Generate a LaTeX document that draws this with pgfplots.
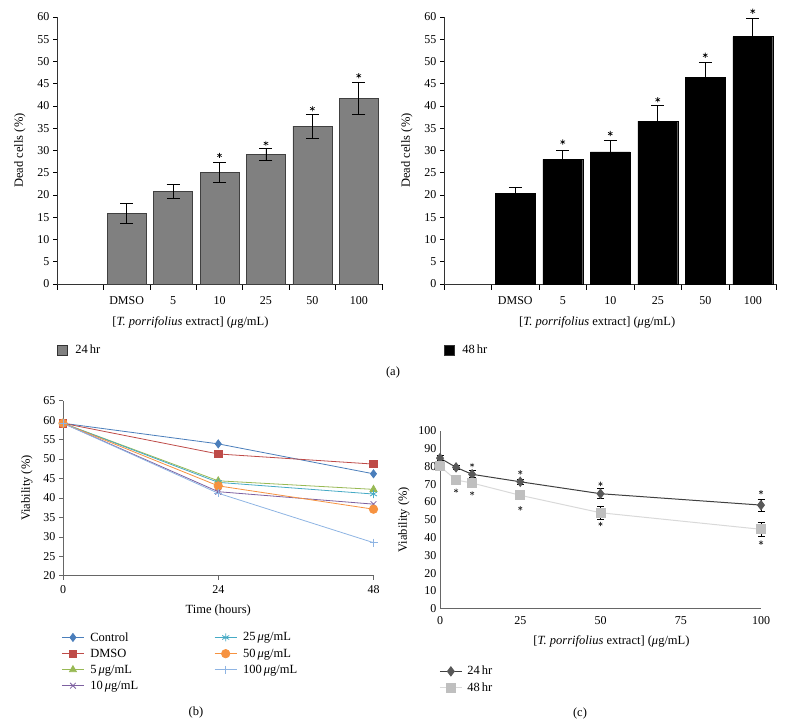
\documentclass[border=0pt]{standalone}
\usepackage{fontspec}
\setmainfont{Liberation Serif}
\usepackage{pgfplots}
\pgfplotsset{compat=1.18}

\definecolor{barg}{HTML}{808080}
\definecolor{cctl}{HTML}{4A7EBB}
\definecolor{cdmso}{HTML}{BE4B48}
\definecolor{cfive}{HTML}{98B954}
\definecolor{cten}{HTML}{7D60A0}
\definecolor{ctwf}{HTML}{46AAC5}
\definecolor{cfif}{HTML}{F69240}
\definecolor{chun}{HTML}{8EB4E3}
\definecolor{dk}{HTML}{595959}
\definecolor{lt}{HTML}{BFBFBF}

\pgfplotsset{
  every axis/.append style={scale only axis, anchor=south west, clip=false,
    /pgf/number format/assume math mode=true,
    font=\fontsize{12}{14}\selectfont,
    label style={font=\fontsize{12.5}{15}\selectfont},
    legend cell align=left,
    axis lines=left, axis line style={-}},
  deadcells/.style={
    ymin=0, ymax=60, ytick={0,5,...,60},
    xmin=0, xmax=7,
    xtick={1.5,2.5,...,6.5}, xticklabels={DMSO,5,10,25,50,100},
    minor xtick={0,1,...,7},
    major x tick style={draw=none},
    minor tick length=6pt, major tick length=4pt,
    tick align=outside,
    xticklabel style={yshift=-5pt},
    tick style={black, line width=0.6pt},
    axis line style={black!80, line width=0.8pt},
    ylabel={Dead cells (\%)}, ylabel shift=5pt,
    xlabel={[\textit{T. porrifolius} extract] (\textit{μ}g/mL)},
    legend image code/.code={\draw[#1, draw=black!80] (0pt,-5pt) rectangle (10pt,5pt);},
    legend style={draw=none, fill=none, anchor=west, font=\fontsize{12.5}{15}\selectfont,
      /tikz/every odd column/.append style={column sep=6pt}},
  },
  errs/.style={error bars/.cd, y dir=both, y explicit,
    error bar style={line width=0.8pt, black},
    error mark options={rotate=90, mark size=6.5pt, line width=0.8pt, black}},
  star/.style={only marks, mark=asterisk, mark size=2.6pt, black, mark options={line width=0.6pt}, forget plot},
}

\begin{document}
\begin{tikzpicture}
\path (0pt,0pt) rectangle (786pt,727pt);

% (a) 24 hr
\begin{axis}[deadcells, at={(57pt,443pt)}, width=325pt, height=267pt,
  xlabel style={xshift=-29pt, yshift=-5pt},
  legend style={at={(axis description cs:-0.01,-0.247)}}]
\addplot[ybar, bar width=0.84, fill=barg, draw=black!75, errs] coordinates {
  (1.5,15.9) +- (0,2.2)
  (2.5,20.8) +- (0,1.6)
  (3.5,25.1) +- (0,2.3)
  (4.5,29.1) +- (0,1.3)
  (5.5,35.5) +- (0,2.7)
  (6.5,41.7) +- (0,3.7)
};
\addlegendentry{24\,hr}
\addplot[star] coordinates {(3.5,28.9) (4.5,31.6) (5.5,39.4) (6.5,46.8)};
\end{axis}

% (a) 48 hr
\begin{axis}[deadcells, at={(444pt,443pt)}, width=332.5pt, height=267pt,
  xlabel style={xshift=-13pt, yshift=-5pt},
  legend style={at={(axis description cs:-0.01,-0.247)}}]
\addplot[ybar, bar width=0.84, fill=black, draw=black, errs] coordinates {
  (1.5,20.3) +- (0,1.3)
  (2.5,28.0) +- (0,2.0)
  (3.5,29.7) +- (0,2.5)
  (4.5,36.6) +- (0,3.5)
  (5.5,46.4) +- (0,3.4)
  (6.5,55.6) +- (0,4.0)
};
\addlegendentry{48\,hr}
\addplot[star] coordinates {(2.5,31.9) (3.5,33.8) (4.5,41.4) (5.5,51.4) (6.5,61.3)};
\end{axis}

% (b) viability over time
\begin{axis}[at={(63pt,151.3pt)}, width=310.5pt, height=175pt,
  xmin=0, xmax=48, ymin=20, ymax=65,
  xtick={0,24,48}, ytick={20,25,...,65},
  tick align=outside, major tick length=4pt,
  xticklabel style={yshift=-2pt},
  tick style={gray!80!black, line width=0.6pt},
  axis line style={gray!80!black, line width=0.8pt},
  xlabel={Time (hours)}, xlabel style={yshift=-5pt},
  ylabel={Viability (\%)}, ylabel shift=4pt,
  every axis plot/.append style={line width=0.8pt},
  legend image code/.code={\draw[mark repeat=2,mark phase=2,#1] plot coordinates {(0pt,0pt) (11pt,0pt) (22pt,0pt)};},
  legend columns=4, transpose legend,
  legend style={draw=none, fill=none, at={(axis description cs:-0.015,-0.30)}, anchor=north west,
    row sep=2.2pt, font=\fontsize{12.5}{15}\selectfont,
    /tikz/every odd column/.append style={column sep=4pt},
    /tikz/every even column/.append style={column sep=74pt}},
]
\addplot[cctl, mark=diamond*, mark size=4pt] coordinates {(0,59.2) (24,53.9) (48,46.2)};
\addlegendentry{Control}
\addplot[cdmso, mark=square*, mark size=3.7pt] coordinates {(0,59.2) (24,51.3) (48,48.7)};
\addlegendentry{DMSO}
\addplot[cfive, mark=triangle*, mark size=4pt] coordinates {(0,59.2) (24,44.4) (48,42.2)};
\addlegendentry{5\,\textit{μ}g/mL}
\addplot[cten, mark=x, mark size=4pt] coordinates {(0,59.2) (24,41.6) (48,38.4)};
\addlegendentry{10\,\textit{μ}g/mL}
\addplot[ctwf, mark=asterisk, mark size=4pt] coordinates {(0,59.2) (24,44.0) (48,41.0)};
\addlegendentry{25\,\textit{μ}g/mL}
\addplot[cfif, mark=*, mark size=4.2pt] coordinates {(0,59.2) (24,43.1) (48,37.1)};
\addlegendentry{50\,\textit{μ}g/mL}
\addplot[chun, mark=+, mark size=4pt] coordinates {(0,59.2) (24,41.2) (48,28.5)};
\addlegendentry{100\,\textit{μ}g/mL}
\end{axis}

% (c) viability vs concentration
\begin{axis}[at={(440pt,118.3pt)}, width=321pt, height=178pt,
  xmin=0, xmax=100, ymin=0, ymax=100,
  xtick={0,25,...,100}, ytick={0,10,...,100},
  major tick length=0pt,
  xticklabel style={yshift=-4pt},
  axis line style={gray!80!black, line width=0.9pt},
  xlabel={[\textit{T. porrifolius} extract] (\textit{μ}g/mL)},
  xlabel style={xshift=11pt, yshift=-5pt},
  ylabel={Viability (\%)}, ylabel shift=2pt,
  legend image code/.code={\draw[mark repeat=2,mark phase=2,#1] plot coordinates {(0pt,0pt) (11pt,0pt) (22pt,0pt)};},
  legend style={draw=none, fill=none, at={(axis description cs:-0.012,-0.30)}, anchor=north west,
    row sep=2.2pt, font=\fontsize{12.5}{15}\selectfont,
    /tikz/every odd column/.append style={column sep=3pt}},
  errc/.style={error bars/.cd, y dir=both, y explicit,
    error bar style={line width=0.8pt, black},
    error mark options={rotate=90, mark size=3.5pt, line width=0.8pt, black}},
]
\addplot[black!75, line width=1pt, mark=diamond*, mark size=4.5pt, mark options={fill=dk, draw=dk}, errc] coordinates {
  (0,84.6) +- (0,1.5)
  (5,79.4) +- (0,1.2)
  (10,75.5) +- (0,2)
  (25,71.3) +- (0,1.5)
  (50,64.6) +- (0,2.8)
  (100,58.2) +- (0,3.3)
};
\addlegendentry{24\,hr}
\addplot[black!15, line width=1pt, mark=square*, mark size=4.5pt, mark options={fill=lt, draw=lt}, errc] coordinates {
  (0,80.0) +- (0,1.5)
  (5,72.3) +- (0,1.5)
  (10,70.6) +- (0,1.5)
  (25,63.7) +- (0,2.5)
  (50,53.9) +- (0,3.5)
  (100,44.6) +- (0,4.1)
};
\addlegendentry{48\,hr}
\addplot[star, mark size=2.2pt, black!80] coordinates {(10,80.7) (25,76.6) (50,70.1) (100,65.4)
  (5,66.3) (10,64.8) (25,56.4) (50,47.6) (100,37.1)};
\end{axis}

\node[font=\fontsize{12.5}{15}\selectfont] at (393pt,354pt) {(a)};
\node[font=\fontsize{12.5}{15}\selectfont] at (196pt,15pt) {(b)};
\node[font=\fontsize{12.5}{15}\selectfont] at (580pt,14pt) {(c)};
\end{tikzpicture}
\end{document}
